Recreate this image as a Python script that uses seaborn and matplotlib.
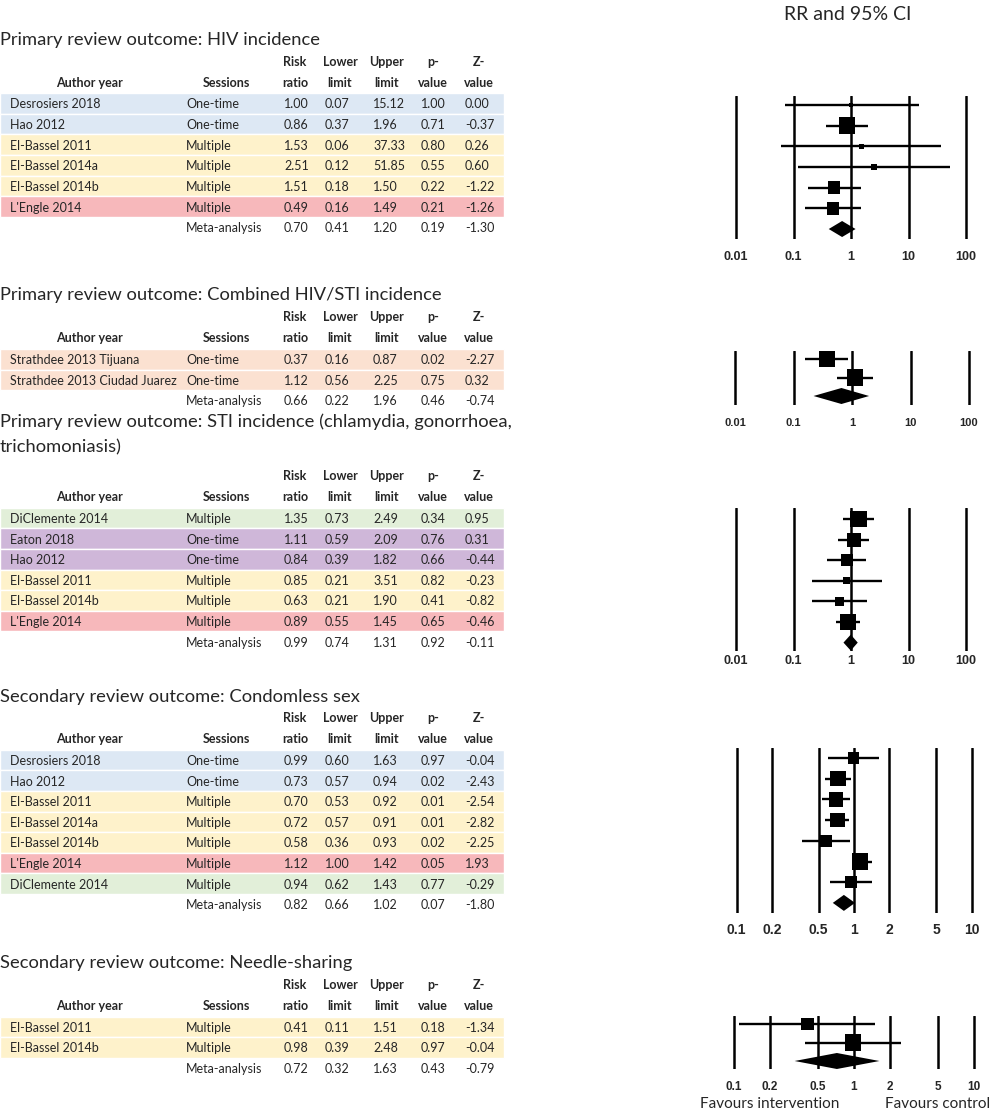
import matplotlib
matplotlib.use('Agg')
import matplotlib.pyplot as plt
import matplotlib.transforms as mtrans
import seaborn as sns
import numpy as np
import pandas as pd

sns.set_style('white')
plt.rcParams['font.family'] = ['Lato', 'DejaVu Sans']

# ---------------- data ----------------
hiv_authors = ['Desrosiers 2018', 'Hao 2012', 'El-Bassel 2011', 'El-Bassel 2014a', 'El-Bassel 2014b', "L'Engle 2014"]
hiv_sessions = ['One-time', 'One-time', 'Multiple', 'Multiple', 'Multiple', 'Multiple']
hiv_groups = ['blue', 'blue', 'yellow', 'yellow', 'yellow', 'pink']
hiv_rr = [1.00, 0.86, 1.53, 2.51, 1.51, 0.49]
hiv_rr_plot = [1.00, 0.86, 1.53, 2.51, 0.51, 0.49]  # table prints 1.51 for El-Bassel 2014b, the box sits at 0.51
hiv_lower = [0.07, 0.37, 0.06, 0.12, 0.18, 0.16]
hiv_upper = [15.12, 1.96, 37.33, 51.85, 1.50, 1.49]
hiv_p = [1.00, 0.71, 0.80, 0.55, 0.22, 0.21]
hiv_z = [0.00, -0.37, 0.26, 0.60, -1.22, -1.26]
hiv_weight = [3.3, 42.0, 3.3, 4.1, 23.6, 23.6]
hiv_meta = [0.70, 0.41, 1.20, 0.19, -1.30]

comb_authors = ['Strathdee 2013 Tijuana', 'Strathdee 2013 Ciudad Juarez']
comb_sessions = ['One-time', 'One-time']
comb_groups = ['salmon', 'salmon']
comb_rr = [0.37, 1.12]
comb_lower = [0.16, 0.56]
comb_upper = [0.87, 2.25]
comb_p = [0.02, 0.75]
comb_z = [-2.27, 0.32]
comb_weight = [48.0, 52.0]
comb_meta = [0.66, 0.22, 1.96, 0.46, -0.74]

sti_authors = ['DiClemente 2014', 'Eaton 2018', 'Hao 2012', 'El-Bassel 2011', 'El-Bassel 2014b', "L'Engle 2014"]
sti_sessions = ['Multiple', 'One-time', 'One-time', 'Multiple', 'Multiple', 'Multiple']
sti_groups = ['green', 'purple', 'purple', 'yellow', 'yellow', 'pink']
sti_rr = [1.35, 1.11, 0.84, 0.85, 0.63, 0.89]
sti_lower = [0.73, 0.59, 0.39, 0.21, 0.21, 0.55]
sti_upper = [2.49, 2.09, 1.82, 3.51, 1.90, 1.45]
sti_p = [0.34, 0.76, 0.66, 0.82, 0.41, 0.65]
sti_z = [0.95, 0.31, -0.44, -0.23, -0.82, -0.46]
sti_weight = [27.6, 20.3, 14.1, 5.1, 9.0, 23.8]
sti_meta = [0.99, 0.74, 1.31, 0.92, -0.11]

cond_authors = ['Desrosiers 2018', 'Hao 2012', 'El-Bassel 2011', 'El-Bassel 2014a', 'El-Bassel 2014b',
                "L'Engle 2014", 'DiClemente 2014']
cond_sessions = ['One-time', 'One-time', 'Multiple', 'Multiple', 'Multiple', 'Multiple', 'Multiple']
cond_groups = ['blue', 'blue', 'yellow', 'yellow', 'yellow', 'pink', 'green']
cond_rr = [0.99, 0.73, 0.70, 0.72, 0.58, 1.12, 0.94]
cond_lower = [0.60, 0.57, 0.53, 0.57, 0.36, 1.00, 0.62]
cond_upper = [1.63, 0.94, 0.92, 0.91, 0.93, 1.42, 1.43]
cond_p = [0.97, 0.02, 0.01, 0.01, 0.02, 0.05, 0.77]
cond_z = [-0.04, -2.43, -2.54, -2.82, -2.25, 1.93, -0.29]
cond_weight = [10.0, 17.7, 15.6, 15.6, 10.0, 20.0, 11.1]
cond_meta = [0.82, 0.66, 1.02, 0.07, -1.80]

needle_authors = ['El-Bassel 2011', 'El-Bassel 2014b']
needle_sessions = ['Multiple', 'Multiple']
needle_groups = ['yellow', 'yellow']
needle_rr = [0.41, 0.98]
needle_lower = [0.11, 0.39]
needle_upper = [1.51, 2.48]
needle_p = [0.18, 0.97]
needle_z = [-1.34, -0.04]
needle_weight = [35.0, 65.0]
needle_meta = [0.72, 0.32, 1.63, 0.43, -0.79]

wide_ticks = [0.01, 0.1, 1, 10, 100]
narrow_ticks = [0.1, 0.2, 0.5, 1, 2, 5, 10]

band_colors = {'blue': '#dde8f4', 'yellow': '#fef2cb', 'pink': '#f7b8bb',
               'salmon': '#fbe1d1', 'green': '#e2efd9', 'purple': '#cfb7d9'}

# ---------------- layout (pixels) ----------------
W, H = 1000, 1117
AUTHOR_X, SESS_X = 10, 186
NUM_X = [284, 325, 373, 421, 465]
HEAD_X = [295, 340, 387, 433, 479]
HEAD1 = ['Risk', 'Lower', 'Upper', 'p-', 'Z-']
HEAD2 = ['ratio', 'limit', 'limit', 'value', 'value']
BAND_W = 504
BOX_SIDE_PX = 16.5
TEXT_FS = 9.0
TITLE_FS = 13.2

sections = [
    dict(titles=[('Primary review outcome: HIV incidence', 40)], head=(62, 83), row0=103.5, rh=20.65,
         authors=hiv_authors, sessions=hiv_sessions, groups=hiv_groups, rr=hiv_rr, rr_plot=hiv_rr_plot,
         lower=hiv_lower, upper=hiv_upper, p=hiv_p, z=hiv_z, weight=hiv_weight, meta=hiv_meta,
         top=96, bot=239, f_row0=105, f_rh=20.67, one_x=851, dec=57.5, ticks=wide_ticks, tick_y=257, tick_fs=9),
    dict(titles=[('Primary review outcome: Combined HIV/STI incidence', 295)], head=(317, 338), row0=359.5, rh=20.3,
         authors=comb_authors, sessions=comb_sessions, groups=comb_groups, rr=comb_rr, rr_plot=comb_rr,
         lower=comb_lower, upper=comb_upper, p=comb_p, z=comb_z, weight=comb_weight, meta=comb_meta,
         top=351, bot=405, f_row0=359, f_rh=18.5, one_x=852, dec=58.5, ticks=wide_ticks, tick_y=423, tick_fs=8),
    dict(titles=[('Primary review outcome: STI incidence (chlamydia, gonorrhoea,', 422), ('trichomoniasis)', 447)],
         head=(476, 497), row0=518, rh=20.6,
         authors=sti_authors, sessions=sti_sessions, groups=sti_groups, rr=sti_rr, rr_plot=sti_rr,
         lower=sti_lower, upper=sti_upper, p=sti_p, z=sti_z, weight=sti_weight, meta=sti_meta,
         top=508, bot=651, f_row0=519, f_rh=20.6, one_x=851, dec=57.5, ticks=wide_ticks, tick_y=661, tick_fs=9),
    dict(titles=[('Secondary review outcome: Condomless sex', 697)], head=(718, 739), row0=760, rh=20.6,
         authors=cond_authors, sessions=cond_sessions, groups=cond_groups, rr=cond_rr, rr_plot=cond_rr,
         lower=cond_lower, upper=cond_upper, p=cond_p, z=cond_z, weight=cond_weight, meta=cond_meta,
         top=748, bot=913, f_row0=758, f_rh=20.7, one_x=854, dec=117.5, ticks=narrow_ticks, tick_y=930, tick_fs=10),
    dict(titles=[('Secondary review outcome: Needle-sharing', 963)], head=(985, 1006), row0=1027, rh=20.5,
         authors=needle_authors, sessions=needle_sessions, groups=needle_groups, rr=needle_rr, rr_plot=needle_rr,
         lower=needle_lower, upper=needle_upper, p=needle_p, z=needle_z, weight=needle_weight, meta=needle_meta,
         top=1016, bot=1069, f_row0=1024, f_rh=18.5, one_x=854, dec=120, ticks=narrow_ticks, tick_y=1087, tick_fs=8.5),
]

fig = plt.figure(figsize=(W / 100, H / 100), dpi=100)
canvas = fig.add_axes([0, 0, 1, 1])
canvas.set_xlim(0, W)
canvas.set_ylim(H, 0)
canvas.axis('off')

canvas.text(848, 14, 'RR and 95% CI', fontsize=14, ha='center', va='center')
canvas.text(770, 1104, 'Favours intervention', fontsize=11, ha='center', va='center')
canvas.text(938, 1104, 'Favours control', fontsize=11, ha='center', va='center')


def fmt(v):
    return f'{v:.2f}'


for sec in sections:
    n = len(sec['authors'])
    rows_px = sec['row0'] + np.arange(n + 1) * sec['rh']

    # coloured row bands
    canvas.barh(rows_px[:n], BAND_W, height=sec['rh'], left=0,
                color=[band_colors[g] for g in sec['groups']], zorder=0)

    for txt, ty in sec['titles']:
        canvas.text(0, ty, txt, fontsize=TITLE_FS, ha='left', va='center')

    h1, h2 = sec['head']
    canvas.text(89, h2, 'Author year', fontsize=TEXT_FS, fontweight='bold', ha='center', va='center')
    canvas.text(226, h2, 'Sessions', fontsize=TEXT_FS, fontweight='bold', ha='center', va='center')
    for hx, a, b in zip(HEAD_X, HEAD1, HEAD2):
        canvas.text(hx, h1, a, fontsize=TEXT_FS, fontweight='bold', ha='center', va='center')
        canvas.text(hx, h2, b, fontsize=TEXT_FS, fontweight='bold', ha='center', va='center')

    cols = [sec['rr'], sec['lower'], sec['upper'], sec['p'], sec['z']]
    for i in range(n):
        y = rows_px[i]
        canvas.text(AUTHOR_X, y, sec['authors'][i], fontsize=TEXT_FS, va='center_baseline')
        canvas.text(SESS_X, y, sec['sessions'][i], fontsize=TEXT_FS, va='center_baseline')
        for cx, col in zip(NUM_X, cols):
            canvas.text(cx, y, fmt(col[i]), fontsize=TEXT_FS, va='center_baseline')
    ym = rows_px[n]
    canvas.text(SESS_X, ym, 'Meta-analysis', fontsize=TEXT_FS, va='center_baseline')
    for cx, v in zip(NUM_X, sec['meta']):
        canvas.text(cx, ym, fmt(v), fontsize=TEXT_FS, va='center_baseline')

    # forest panel
    x0, x1 = 700, 1000
    ax = fig.add_axes([x0 / W, 1 - sec['bot'] / H, (x1 - x0) / W, (sec['bot'] - sec['top']) / H])
    ax.patch.set_visible(False)
    ax.set_xscale('log')
    ax.set_xlim(10 ** ((x0 - sec['one_x']) / sec['dec']), 10 ** ((x1 - sec['one_x']) / sec['dec']))
    ax.set_ylim((sec['bot'] - sec['f_row0']) / sec['f_rh'], (sec['top'] - sec['f_row0']) / sec['f_rh'])

    for t in sec['ticks']:
        ax.axvline(t, color='black', lw=1.8, zorder=1)

    rows = np.arange(n)
    ax.hlines(rows, sec['lower'], sec['upper'], color='black', lw=1.7, zorder=2)
    df = pd.DataFrame({'rr': sec['rr_plot'], 'row': rows, 'w': sec['weight']})
    box_area = (BOX_SIDE_PX * 0.72) ** 2
    sns.scatterplot(data=df, x='rr', y='row', size='w', sizes=(0, box_area),
                    size_norm=(0, max(sec['weight'])), marker='s', color='black',
                    edgecolor='black', linewidth=0, legend=False, ax=ax, zorder=3)

    est, mlo, mhi = sec['meta'][:3]
    dh = 8.0 / sec['f_rh']
    ax.fill([mlo, est, mhi, est], [n, n - dh, n, n + dh], color='black', lw=0, zorder=3)

    ax.set(xlabel='', ylabel='')
    ax.set_xticks([])
    ax.set_yticks([])
    ax.minorticks_off()
    for s in ax.spines.values():
        s.set_visible(False)

    trans = mtrans.blended_transform_factory(ax.transData, canvas.transData)
    for t in sec['ticks']:
        ax.text(t, sec['tick_y'], f'{t:g}', transform=trans, ha='center', va='center',
                fontsize=sec['tick_fs'], fontweight='bold', family='Liberation Sans', clip_on=False)

fig.savefig('out.png', dpi=100)
